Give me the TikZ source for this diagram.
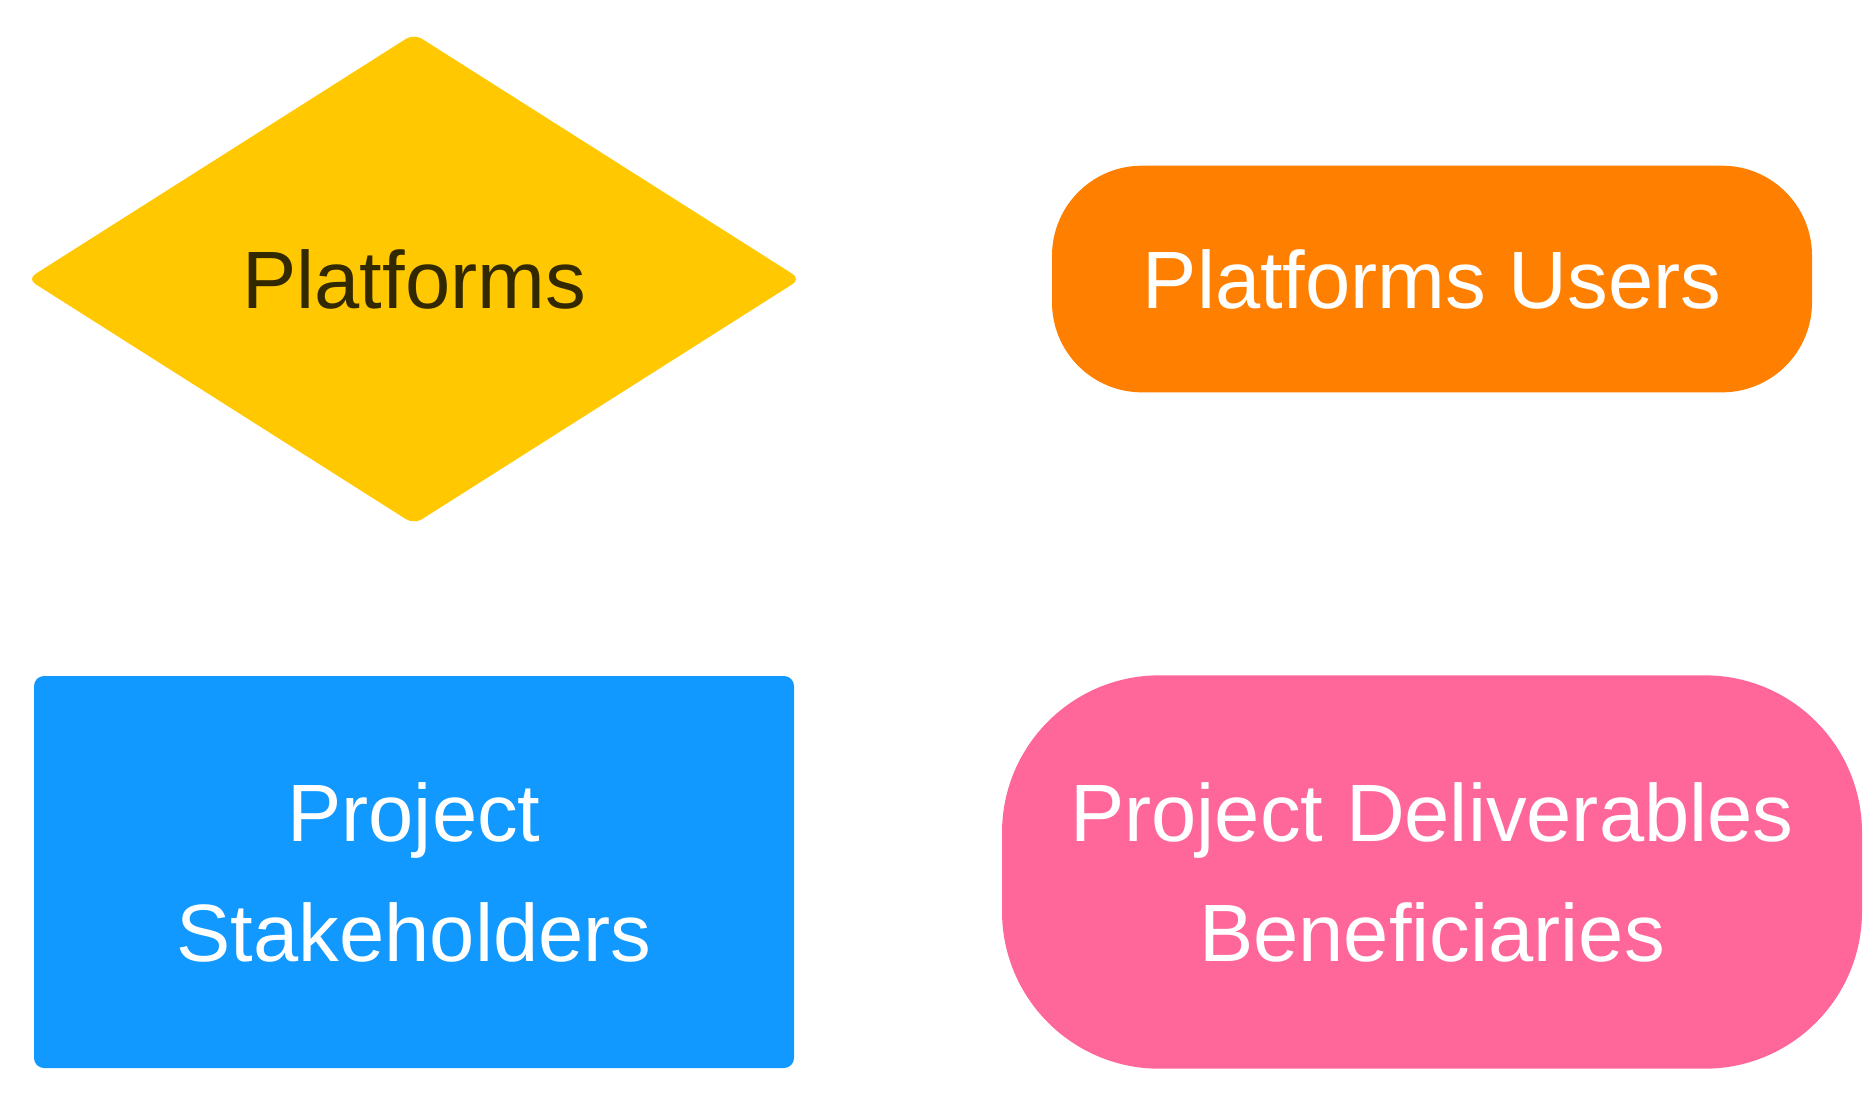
\documentclass[tikz,border=0pt]{standalone}
\usepackage{fontspec}
\setmainfont{Liberation Sans}
\usetikzlibrary{shapes.geometric}
\definecolor{platformYellow}{HTML}{FFC800}
\definecolor{platformText}{HTML}{332900}
\definecolor{usersOrange}{HTML}{FF7F00}
\definecolor{stakeBlue}{HTML}{1199FF}
\definecolor{benefPink}{HTML}{FF6699}
\def\colSep{1018}
\def\rowSep{593}
\tikzset{
  boxText/.style={
    font=\fontsize{61}{90}\selectfont,
    text=white,
    align=center,
    inner sep=0pt
  },
  diamondNode/.style={
    boxText,
    diamond,
    fill=platformYellow,
    text=platformText,
    rounded corners=7pt,
    minimum width=580pt,
    minimum height=368pt
  },
  pillNode/.style={
    boxText,
    rectangle,
    fill=usersOrange,
    rounded corners=67.5pt,
    minimum width=570pt,
    minimum height=170pt
  },
  squareNode/.style={
    boxText,
    rectangle,
    fill=stakeBlue,
    rounded corners=7.5pt,
    minimum width=570pt,
    minimum height=294pt
  },
  roundNode/.style={
    boxText,
    rectangle,
    fill=benefPink,
    rounded corners=118pt,
    minimum width=645pt,
    minimum height=295pt
  }
}

\begin{document}
\begin{tikzpicture}[x=0.75pt,y=-0.75pt]
  \useasboundingbox (0,0) rectangle (1873,1108);

  \node[diamondNode] (platforms) at (414,279) {Platforms};
  \node[pillNode] (users) at (414+\colSep,279) {Platforms Users};

  \node[squareNode] (stakeholders) at (414,279+\rowSep) {Project\\Stakeholders};
  \node[roundNode] (beneficiaries) at (1432,279+\rowSep) {Project Deliverables\\Beneficiaries};
\end{tikzpicture}
\end{document}
